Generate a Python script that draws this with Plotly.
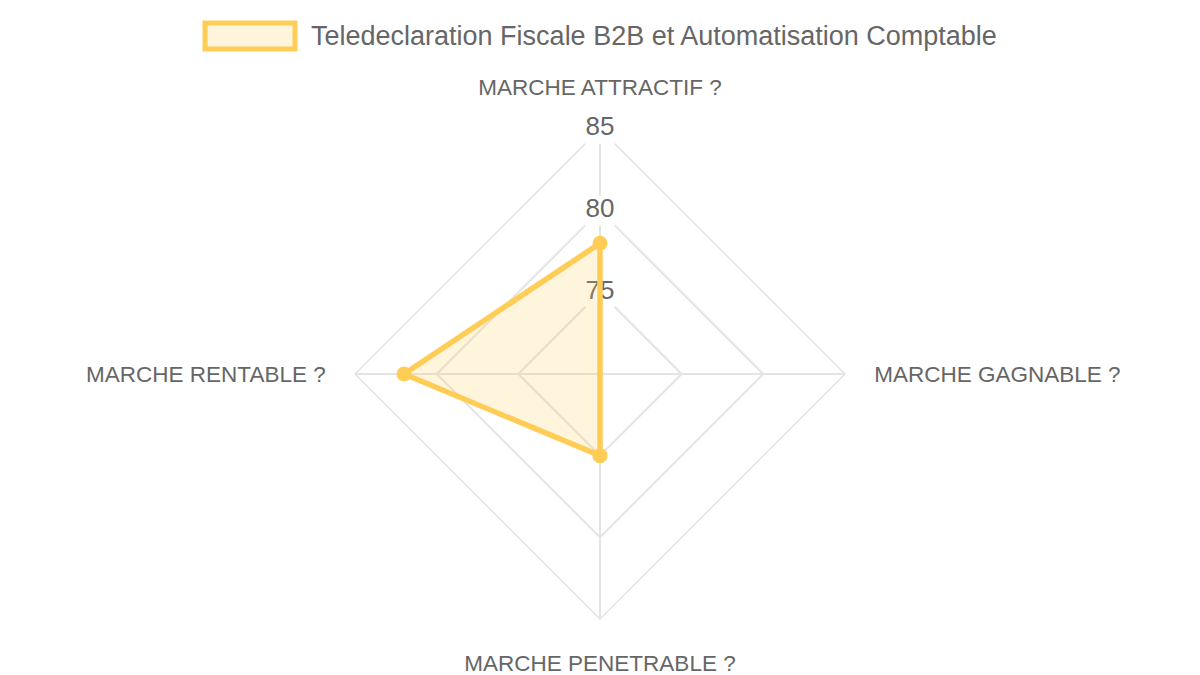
import plotly.graph_objects as go

# axes of the radar, clockwise from the top
categories = [
    "MARCHE ATTRACTIF ?",
    "MARCHE GAGNABLE ?",
    "MARCHE PENETRABLE ?",
    "MARCHE RENTABLE ?",
]
scores = [78, 70, 75, 82]
series_name = "Teledeclaration Fiscale B2B et Automatisation Comptable"

radial_ticks = [75, 80, 85]
radial_range = [70, 85]

line_color = "rgb(255, 205, 86)"
fill_color = "rgba(255, 205, 86, 0.2)"
grid_color = "#e4e4e4"
text_color = "#666666"

W, H = 1200, 675

fig = go.Figure()

# radial tick labels drawn on the top spoke, with a white backdrop like chart.js
fig.add_trace(go.Scatterpolar(
    r=radial_ticks,
    theta=[categories[0]] * len(radial_ticks),
    mode="markers+text",
    text=[str(t) for t in radial_ticks],
    textposition="middle center",
    textfont=dict(size=26, color=text_color, family="Liberation Sans, Arial"),
    marker=dict(symbol="square", size=30, color="white"),
    showlegend=False,
    hoverinfo="skip",
    cliponaxis=False,
))

# filled area + outline
fig.add_trace(go.Scatterpolar(
    r=scores + scores[:1],
    theta=categories + categories[:1],
    name=series_name,
    mode="lines",
    fill="toself",
    fillcolor=fill_color,
    line=dict(color=line_color, width=5.5),
    showlegend=False,
    cliponaxis=False,
))

# point markers
fig.add_trace(go.Scatterpolar(
    r=scores,
    theta=categories,
    mode="markers",
    marker=dict(color=line_color, size=15),
    showlegend=False,
    cliponaxis=False,
))

# chart.js style legend: big boxed swatch + label (plotly's own swatch is tiny)
px_x = lambda v: v / W
px_y = lambda v: 1 - v / H
fig.add_shape(
    type="rect", xref="paper", yref="paper",
    x0=px_x(205), x1=px_x(295), y0=px_y(49), y1=px_y(23),
    line=dict(color=line_color, width=5), fillcolor=fill_color,
)
fig.add_annotation(
    xref="paper", yref="paper", x=px_x(309), y=px_y(36),
    xanchor="left", yanchor="middle", showarrow=False,
    text=series_name, font=dict(size=27, color=text_color),
)

fig.update_layout(
    width=W,
    height=H,
    margin=dict(l=0, r=0, t=0, b=0, autoexpand=False),
    paper_bgcolor="white",
    font=dict(family="Liberation Sans, Arial", color=text_color),
    showlegend=False,
    polar=dict(
        domain=dict(x=[0.2958, 0.7042], y=[0.083, 0.809]),
        bgcolor="white",
        gridshape="linear",
        radialaxis=dict(
            range=radial_range,
            tickvals=radial_ticks,
            showticklabels=False,
            ticks="",
            showline=False,
            gridcolor=grid_color,
            gridwidth=1.5,
            angle=90,
            layer="below traces",
        ),
        angularaxis=dict(
            categoryorder="array",
            categoryarray=categories,
            direction="clockwise",
            rotation=90,
            showline=True,
            linecolor=grid_color,
            linewidth=1.5,
            gridcolor=grid_color,
            gridwidth=1.5,
            ticks="outside",
            ticklen=24,
            tickcolor="rgba(0,0,0,0)",
            tickfont=dict(size=22.5, color=text_color),
            layer="below traces",
        ),
    ),
)

# drop the default 8px body margin so the 1200x675 figure fills the window
fig.write_html(
    "out.html",
    config={"displayModeBar": False},
    post_script="document.body.style.margin='0';",
)
